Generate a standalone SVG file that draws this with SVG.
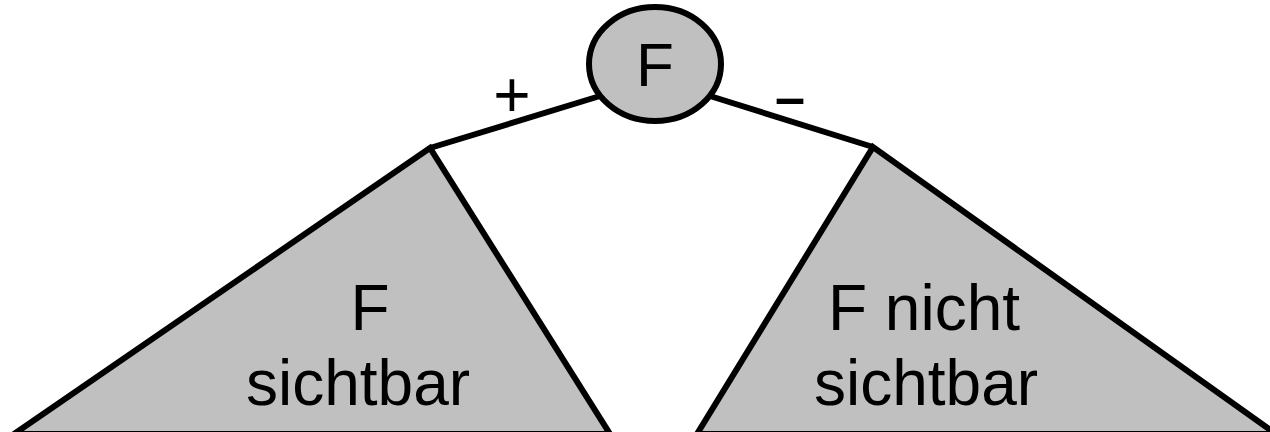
<svg xmlns="http://www.w3.org/2000/svg" width="1270" height="432" viewBox="0 0 1270 432">
<style>
.shape{fill:#c0c0c0;stroke:#000;stroke-width:6;stroke-linejoin:miter}
.edge{fill:none;stroke:#000;stroke-width:6}
.t{font-family:"Liberation Sans",Arial,sans-serif;font-size:64px;fill:#000;text-anchor:middle}
</style>
<rect width="1270" height="432" fill="#fff"/>
<g id="connectors">
<polyline class="edge" points="600,96 430,148"/>
<polyline class="edge" points="710,96 873,147"/>
<text class="t" x="512" y="117">+</text>
<text class="t" x="790" y="116" style="font-weight:bold;font-size:54px">–</text>
</g>
<g id="left">
<polygon class="shape" points="430,148 14,434 610,434"/>
<text class="t" x="370" y="330">F</text>
<text class="t" x="358" y="405">sichtbar</text>
</g>
<g id="right">
<polygon class="shape" points="873,147 697,434 1276,434"/>
<text class="t" x="924" y="330">F nicht</text>
<text class="t" x="926" y="405">sichtbar</text>
</g>
<g id="root">
<ellipse class="shape" cx="655" cy="64" rx="66" ry="57"/>
<text class="t" x="655" y="86" style="font-size:62px">F</text>
</g>
</svg>
